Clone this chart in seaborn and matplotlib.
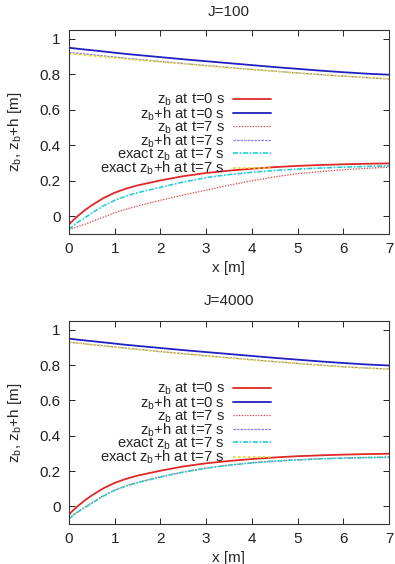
import numpy as np
import pandas as pd
import matplotlib
matplotlib.use("Agg")
import matplotlib.pyplot as plt
import seaborn as sns

# ---------------- data ----------------
x = [0, 0.1, 0.2, 0.35, 0.5, 0.75, 1, 1.25, 1.5, 2, 2.5, 3, 3.5, 4, 4.5, 5, 5.5, 6, 6.5, 7]

zb_t0 = [-0.046, -0.020, 0.003, 0.035, 0.062, 0.102, 0.133, 0.156, 0.174, 0.202, 0.226,
         0.244, 0.257, 0.268, 0.277, 0.284, 0.289, 0.293, 0.296, 0.298]
zbh_t0 = [0.950, 0.947, 0.944, 0.940, 0.936, 0.929, 0.922, 0.915, 0.909, 0.897, 0.885,
          0.874, 0.863, 0.852, 0.841, 0.831, 0.821, 0.812, 0.804, 0.798]

# J=100
j100_zb_t7 = [-0.075, -0.067, -0.058, -0.045, -0.030, -0.005, 0.020, 0.040, 0.058, 0.090,
              0.120, 0.147, 0.175, 0.200, 0.222, 0.240, 0.252, 0.262, 0.270, 0.276]
j100_zbh_t7 = [0.924, 0.921, 0.919, 0.915, 0.911, 0.904, 0.898, 0.891, 0.885, 0.873,
               0.861, 0.850, 0.839, 0.828, 0.818, 0.808, 0.799, 0.790, 0.782, 0.774]
j100_exact_zb = [-0.073, -0.052, -0.033, -0.008, 0.018, 0.058, 0.090, 0.114, 0.133, 0.163,
                 0.193, 0.218, 0.235, 0.248, 0.258, 0.266, 0.272, 0.277, 0.281, 0.284]
j100_exact_zbh = [0.916, 0.914, 0.912, 0.908, 0.904, 0.899, 0.893, 0.887, 0.881, 0.870,
                  0.859, 0.848, 0.837, 0.827, 0.817, 0.807, 0.798, 0.790, 0.782, 0.775]

# J=4000
j4000_zb_t7 = [-0.068, -0.047, -0.029, -0.004, 0.020, 0.060, 0.093, 0.117, 0.136, 0.168,
               0.195, 0.217, 0.234, 0.247, 0.257, 0.264, 0.270, 0.274, 0.277, 0.279]
j4000_zbh_t7 = [0.930, 0.927, 0.925, 0.921, 0.916, 0.910, 0.903, 0.896, 0.890, 0.877,
                0.865, 0.853, 0.842, 0.831, 0.820, 0.810, 0.800, 0.791, 0.784, 0.778]
j4000_exact_zb = [-0.070, -0.049, -0.031, -0.006, 0.018, 0.058, 0.091, 0.115, 0.134, 0.166,
                  0.194, 0.216, 0.233, 0.246, 0.256, 0.263, 0.269, 0.273, 0.276, 0.278]
j4000_exact_zbh = [0.929, 0.926, 0.924, 0.920, 0.915, 0.909, 0.902, 0.895, 0.889, 0.876,
                   0.864, 0.852, 0.841, 0.830, 0.819, 0.809, 0.799, 0.790, 0.783, 0.777]

titles = ["J=100", "J=4000"]
labels = [r"z$_\mathrm{b}$ at t=0 s", r"z$_\mathrm{b}$+h at t=0 s",
          r"z$_\mathrm{b}$ at t=7 s", r"z$_\mathrm{b}$+h at t=7 s",
          r"exact z$_\mathrm{b}$ at t=7 s", r"exact z$_\mathrm{b}$+h at t=7 s"]
xticks = [0, 1, 2, 3, 4, 5, 6, 7]
yticks = [0, 0.2, 0.4, 0.6, 0.8, 1]
yticklabels = ["0", "0.2", "0.4", "0.6", "0.8", "1"]

panels = [
    [zb_t0, zbh_t0, j100_zb_t7, j100_zbh_t7, j100_exact_zb, j100_exact_zbh],
    [zb_t0, zbh_t0, j4000_zb_t7, j4000_zbh_t7, j4000_exact_zb, j4000_exact_zbh],
]

# ---------------- styling ----------------
sns.set_theme(style="ticks")
plt.rcParams["font.family"] = ["Liberation Sans", "DejaVu Sans"]
plt.rcParams["mathtext.fontset"] = "custom"
plt.rcParams["mathtext.rm"] = "Liberation Sans"
plt.rcParams["mathtext.it"] = "Liberation Sans"
FS = 11
LFS = 10.6

colors = ["#e02828", "#2020c0", "#e03a3a", "#8a80e0", "#20d0d8", "#e8d820"]
styles = ["-", "-", (0, (1, 1.2)), (0, (2, 0.8)), (0, (3, 1, 1, 1)), (0, (1.5, 1.5))]
widths = [1.3, 1.3, 0.9, 0.9, 1.2, 1.2]

fig = plt.figure(figsize=(3.95, 5.64), dpi=100)
positions = [[69 / 395, 1 - 234 / 564, 320 / 395, 204 / 564],
             [69 / 395, 1 - 524 / 564, 320 / 395, 203 / 564]]
legend_anchor = [(271 / 395, 1 - 92 / 564), (271 / 395, 1 - 381 / 564)]
title_y = [12, 301]
xlabel_y = [268, 558]

for i, series in enumerate(panels):
    ax = fig.add_axes(positions[i])
    for s, lab, c, ls, lw in zip(series, labels, colors, styles, widths):
        sns.lineplot(x=x, y=s, ax=ax, color=c, linestyle=ls, linewidth=lw, label=lab)
    ax.set_xlim(0, 7)
    ax.set_ylim(-0.1, 1.05)
    ax.set_xticks(xticks)
    ax.set_xticklabels([str(t) for t in xticks], fontsize=FS)
    ax.set_yticks(yticks)
    ax.set_yticklabels(yticklabels, fontsize=FS)
    ax.tick_params(direction="in", length=4, width=0.7, top=True, right=True,
                   pad=6, colors="#222222")
    for sp in ax.spines.values():
        sp.set_linewidth(0.8)
        sp.set_color("#333333")
    ax.set_xlabel("")
    ax.set_ylabel(r"z$_\mathrm{b}$, z$_\mathrm{b}$+h [m]", fontsize=FS, labelpad=11)
    fig.text(229 / 395, 1 - title_y[i] / 564, titles[i], ha="center", va="center", fontsize=FS)
    fig.text(229 / 395, 1 - xlabel_y[i] / 564, "x [m]", ha="center", va="center", fontsize=FS)
    leg = ax.legend(loc="upper right", bbox_to_anchor=legend_anchor[i],
                    bbox_transform=fig.transFigure, frameon=False, markerfirst=False,
                    fontsize=LFS, handlelength=2.6, handletextpad=0.55,
                    labelspacing=-0.22, borderpad=0, borderaxespad=0)

fig.savefig("out.png", dpi=100)
